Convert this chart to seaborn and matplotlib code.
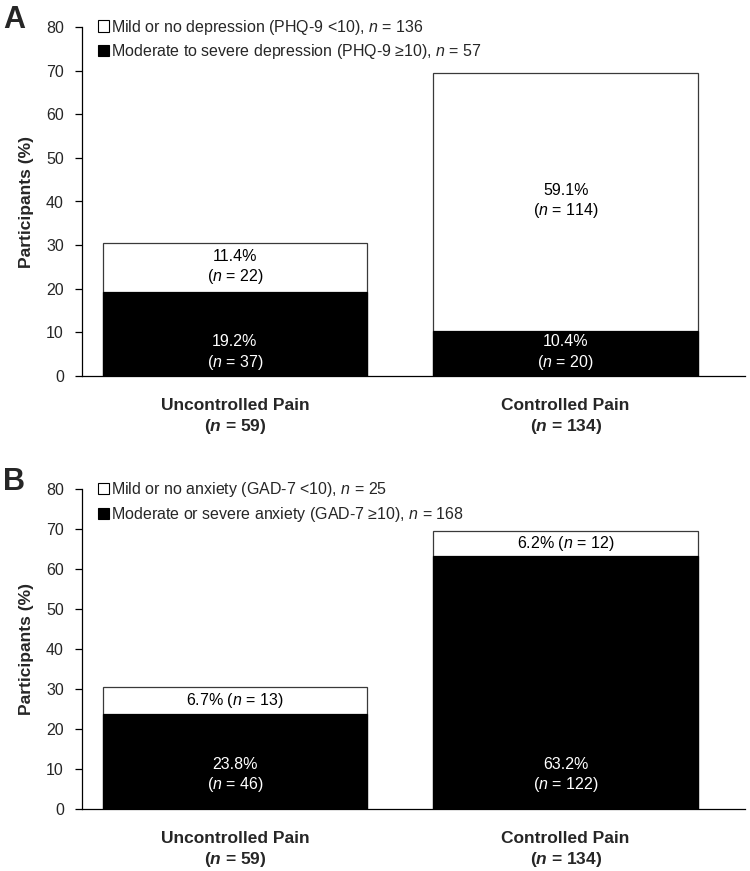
import numpy as np
import pandas as pd
import matplotlib
matplotlib.use("Agg")
import matplotlib.pyplot as plt
import seaborn as sns
from matplotlib.patches import Patch

# ---------------- data ----------------
categories = ["Uncontrolled Pain", "Controlled Pain"]
group_n = [59, 134]

dep_severe_pct = [19.2, 10.4]
dep_severe_n = [37, 20]
dep_mild_pct = [11.4, 59.1]
dep_mild_n = [22, 114]
dep_legend = ["Mild or no depression (PHQ-9 <10), $\\mathit{n}$ = 136",
              "Moderate to severe depression (PHQ-9 \u226510), $\\mathit{n}$ = 57"]

anx_severe_pct = [23.8, 63.2]
anx_severe_n = [46, 122]
anx_mild_pct = [6.7, 6.2]
anx_mild_n = [13, 12]
anx_legend = ["Mild or no anxiety (GAD-7 <10), $\\mathit{n}$ = 25",
              "Moderate or severe anxiety (GAD-7 \u226510), $\\mathit{n}$ = 168"]

y_ticks = [0, 10, 20, 30, 40, 50, 60, 70, 80]
panel_letters = ["A", "B"]

# ---------------- style ----------------
sns.set_theme(style="white")
plt.rcParams["font.family"] = ["Liberation Sans", "DejaVu Sans"]
plt.rcParams["mathtext.fontset"] = "custom"
plt.rcParams["mathtext.rm"] = "Liberation Sans"
plt.rcParams["mathtext.it"] = "Liberation Sans:italic"
plt.rcParams["mathtext.bf"] = "Liberation Sans:bold"
plt.rcParams["mathtext.bfit"] = "Liberation Sans:bold:italic"

W, H = 750, 871
fig = plt.figure(figsize=(W / 100, H / 100), dpi=100)

def fx(px):
    return px / W

def fy(py):
    return 1 - py / H

# axes rectangles in pixels: left, right, top(80), bottom(0)
rects = [(82, 745, 27, 376), (82, 745, 489, 809)]

panels = [
    (dep_severe_pct, dep_severe_n, dep_mild_pct, dep_mild_n, dep_legend, [5.3, 5.3], "two"),
    (anx_severe_pct, anx_severe_n, anx_mild_pct, anx_mild_n, anx_legend, [8.4, 8.4], "one"),
]

edge = "#3a3a3a"
xl = (-0.462, 1.542)
FS = 11.5

for i, (sev, sev_n, mild, mild_n, leg, sev_text_y, mild_style) in enumerate(panels):
    l, r, t, b = rects[i]
    ax = fig.add_axes([fx(l), fy(b), fx(r) - fx(l), fy(t) - fy(b)])
    df = pd.DataFrame({
        "group": categories,
        "total": [s + m for s, m in zip(sev, mild)],
        "severe": sev,
    })
    sns.barplot(data=df, x="group", y="total", order=categories, color="white",
                edgecolor=edge, linewidth=0.9, width=0.8, saturation=1, ax=ax)
    sns.barplot(data=df, x="group", y="severe", order=categories, color="black",
                edgecolor="black", linewidth=0.9, width=0.8, saturation=1, ax=ax)

    ax.set_xlim(*xl)
    ax.set_ylim(0, 80)
    ax.set_yticks(y_ticks)
    ax.set_yticklabels([str(v) for v in y_ticks], fontsize=FS)
    ax.set_xticks([0, 1])
    ax.set_xticklabels([f"{c}\n($\\mathbfit{{n}}$ = {n})" for c, n in zip(categories, group_n)],
                       fontsize=12.5, fontweight="bold", linespacing=1.3,
                       family=["Liberation Sans Narrow", "Liberation Sans"])
    ax.tick_params(axis="x", which="major", length=0, pad=16)
    ax.set_xticks([xl[0], 0.5, xl[1]], minor=True)
    ax.tick_params(axis="x", which="minor", length=5, width=0.9, color="black", direction="out")
    ax.tick_params(axis="y", which="major", length=5, width=0.9, color="black",
                   direction="out", pad=8, left=True)
    ax.set_xlabel("")
    ax.set_ylabel("Participants (%)", fontsize=12.5, fontweight="bold", labelpad=9)
    for s in ["top", "right"]:
        ax.spines[s].set_visible(False)
    for s in ["left", "bottom"]:
        ax.spines[s].set_color("black")
        ax.spines[s].set_linewidth(0.9)

    # annotations
    for j in range(2):
        ax.text(j, sev_text_y[j], f"{sev[j]}%\n($\\mathit{{n}}$ = {sev_n[j]})",
                ha="center", va="center", color="white", fontsize=FS, linespacing=1.25)
        mid = sev[j] + mild[j] / 2
        if mild_style == "two":
            ax.text(j, mid, f"{mild[j]}%\n($\\mathit{{n}}$ = {mild_n[j]})",
                    ha="center", va="center", color="black", fontsize=FS, linespacing=1.25)
        else:
            ax.text(j, mid, f"{mild[j]}% ($\\mathit{{n}}$ = {mild_n[j]})",
                    ha="center", va="center", color="black", fontsize=FS)

    handles = [Patch(facecolor="white", edgecolor="black", linewidth=0.8),
               Patch(facecolor="black", edgecolor="black", linewidth=0.8)]
    ax.legend(handles, leg, loc="upper left", bbox_to_anchor=(0.024, 1.027),
              frameon=False, fontsize=FS, handlelength=0.7, handleheight=0.7,
              handletextpad=0.15, labelspacing=0.36, borderpad=0, borderaxespad=0)

    fig.text(fx(3), fy(t - 22), panel_letters[i], fontsize=22, fontweight="bold",
             ha="left", va="top")

fig.savefig("out.png", dpi=100)
